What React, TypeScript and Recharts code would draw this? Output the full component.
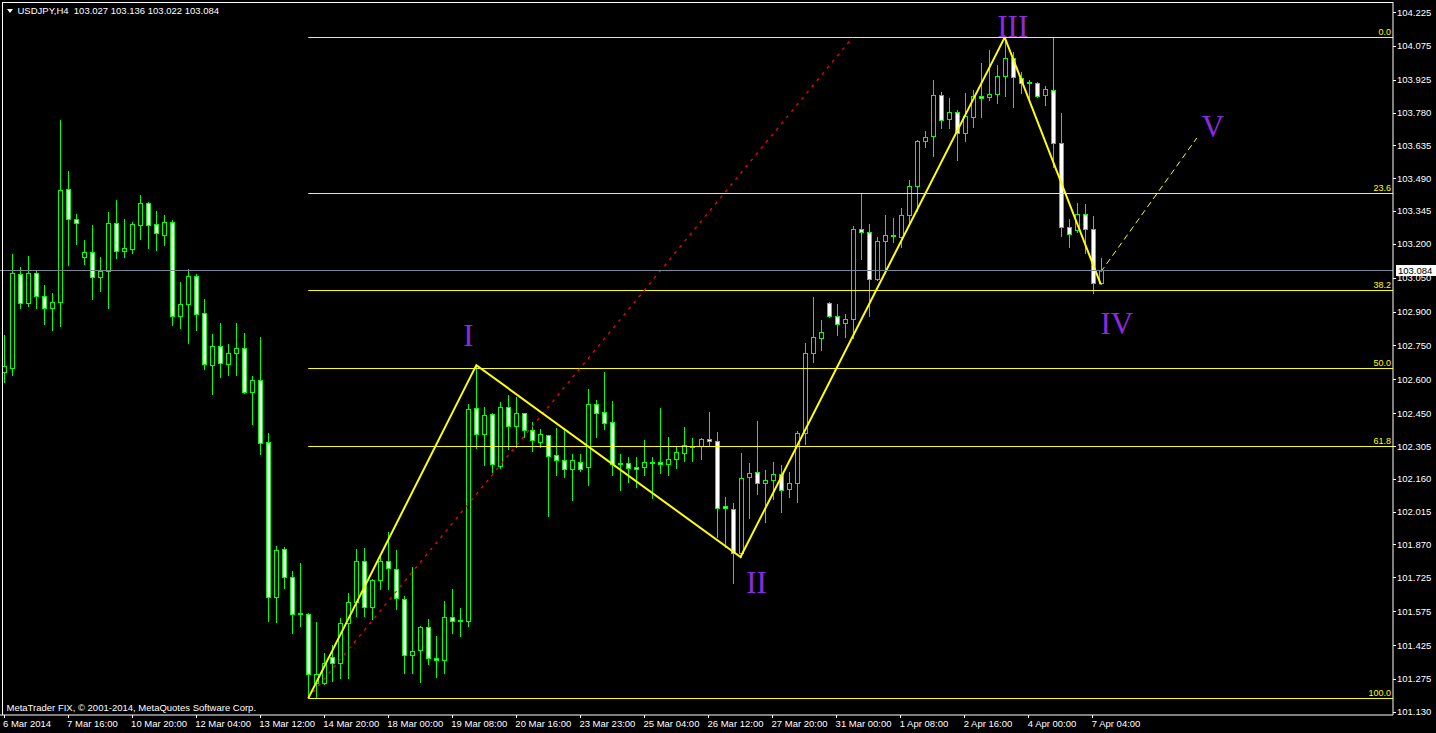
import React from 'react';
import { ComposedChart, Bar, Line, XAxis, YAxis, ReferenceLine, ReferenceDot } from 'recharts';

// USDJPY H4 candles
const opens = [
  102.633, 102.650, 103.066, 102.938, 103.070, 102.969, 102.916, 102.942, 103.442, 103.309,
  103.141, 103.163, 103.053, 103.079, 103.292, 103.168, 103.177, 103.283, 103.380, 103.287,
  103.239, 103.296, 102.880, 102.933, 103.057, 102.894, 102.663, 102.748, 102.668, 102.717,
  102.739, 102.544, 102.597, 102.323, 101.637, 101.850, 101.726, 101.562, 101.562, 101.257,
  101.257, 101.372, 101.345, 101.522, 101.615, 101.796, 101.593, 101.713, 101.796, 101.761,
  101.628, 101.381, 101.403, 101.505, 101.367, 101.359, 101.549, 101.531, 101.531, 102.473,
  102.358, 102.447, 102.217, 102.478, 102.394, 102.451, 102.376, 102.323, 102.354, 102.265,
  102.243, 102.203, 102.234, 102.212, 102.491, 102.456, 102.411, 102.226, 102.230, 102.212,
  102.212, 102.234, 102.234, 102.226, 102.248, 102.274, 102.305, 102.305, 102.336, 102.327,
  102.040, 102.026, 101.832, 102.168, 102.190, 102.142, 102.155, 102.181, 102.115, 102.142,
  102.363, 102.717, 102.783, 102.938, 102.880, 102.849, 102.867, 103.265, 103.252, 103.044,
  103.212, 103.234, 103.230, 103.327, 103.455, 103.654, 103.676, 103.858, 103.752, 103.783,
  103.690, 103.760, 103.853, 103.849, 103.862, 103.942, 104.021, 103.933, 103.915, 103.911,
  103.858, 103.880, 103.646, 103.274, 103.261, 103.331, 103.265, 103.027,
];
const highs = [
  102.796, 103.154, 103.097, 103.146, 103.079, 103.017, 102.982, 103.747, 103.522, 103.331,
  103.216, 103.283, 103.141, 103.340, 103.393, 103.309, 103.296, 103.415, 103.385, 103.345,
  103.327, 103.305, 103.031, 103.088, 103.066, 102.955, 102.801, 102.849, 102.756, 102.849,
  102.805, 102.615, 102.787, 102.363, 101.863, 101.858, 101.752, 101.788, 101.565, 101.527,
  101.390, 101.425, 101.544, 101.655, 101.850, 101.854, 101.717, 101.819, 101.925, 101.845,
  101.642, 101.770, 101.509, 101.540, 101.465, 101.620, 101.673, 101.589, 102.491, 102.663,
  102.478, 102.451, 102.500, 102.531, 102.522, 102.453, 102.411, 102.380, 102.356, 102.385,
  102.385, 102.270, 102.270, 102.557, 102.509, 102.633, 102.504, 102.270, 102.257, 102.257,
  102.332, 102.257, 102.473, 102.345, 102.301, 102.389, 102.341, 102.341, 102.456, 102.367,
  102.080, 102.053, 102.274, 102.230, 102.416, 102.199, 102.234, 102.221, 102.190, 102.370,
  102.761, 102.964, 102.863, 102.942, 102.933, 102.889, 103.278, 103.420, 103.287, 103.230,
  103.327, 103.314, 103.358, 103.482, 103.659, 103.699, 103.924, 103.871, 103.845, 103.791,
  103.867, 103.880, 103.999, 104.057, 103.990, 104.113, 104.048, 103.960, 103.924, 103.915,
  103.898, 104.114, 103.778, 103.309, 103.380, 103.376, 103.323, 103.136,
];
const lows = [
  102.588, 102.619, 102.916, 102.924, 102.916, 102.845, 102.818, 102.836, 103.106, 103.199,
  103.110, 102.955, 102.991, 102.916, 103.137, 103.141, 103.159, 103.221, 103.181, 103.172,
  103.194, 102.840, 102.827, 102.761, 102.818, 102.646, 102.535, 102.610, 102.619, 102.619,
  102.540, 102.403, 102.270, 101.531, 101.527, 101.677, 101.478, 101.509, 101.189, 101.195,
  101.252, 101.266, 101.279, 101.279, 101.553, 101.553, 101.540, 101.673, 101.673, 101.584,
  101.301, 101.301, 101.261, 101.341, 101.283, 101.301, 101.478, 101.465, 101.509, 102.296,
  102.221, 102.190, 102.208, 102.292, 102.301, 102.345, 102.283, 102.301, 101.996, 102.177,
  102.168, 102.066, 102.195, 102.133, 102.345, 102.380, 102.177, 102.111, 102.146, 102.124,
  102.177, 102.075, 102.186, 102.177, 102.208, 102.239, 102.239, 102.248, 102.310, 101.903,
  101.858, 101.699, 101.814, 101.987, 102.093, 101.969, 102.071, 102.013, 102.080, 102.057,
  102.314, 102.677, 102.730, 102.876, 102.796, 102.787, 102.783, 103.132, 102.880, 103.039,
  103.070, 103.208, 103.185, 103.283, 103.345, 103.628, 103.588, 103.712, 103.712, 103.570,
  103.654, 103.716, 103.760, 103.836, 103.822, 103.853, 103.805, 103.867, 103.831, 103.849,
  103.814, 103.539, 103.234, 103.185, 103.252, 103.159, 102.982, 103.022,
];
const closes = [
  102.659, 103.070, 102.938, 103.070, 102.969, 102.916, 102.942, 103.438, 103.309, 103.292,
  103.163, 103.053, 103.079, 103.292, 103.168, 103.181, 103.287, 103.380, 103.283, 103.247,
  103.296, 102.880, 102.933, 103.057, 102.889, 102.668, 102.748, 102.672, 102.717, 102.739,
  102.544, 102.597, 102.318, 101.637, 101.845, 101.726, 101.562, 101.566, 101.297, 101.297,
  101.345, 101.345, 101.522, 101.615, 101.796, 101.593, 101.713, 101.796, 101.766, 101.633,
  101.381, 101.398, 101.505, 101.367, 101.359, 101.549, 101.531, 101.536, 102.469, 102.358,
  102.442, 102.226, 102.478, 102.394, 102.451, 102.376, 102.332, 102.358, 102.261, 102.243,
  102.203, 102.243, 102.203, 102.491, 102.451, 102.407, 102.226, 102.230, 102.208, 102.203,
  102.234, 102.232, 102.226, 102.248, 102.279, 102.310, 102.303, 102.336, 102.327, 102.031,
  102.031, 101.832, 102.164, 102.186, 102.142, 102.155, 102.181, 102.111, 102.142, 102.363,
  102.717, 102.787, 102.809, 102.880, 102.845, 102.867, 103.265, 103.252, 103.044, 103.212,
  103.239, 103.239, 103.327, 103.455, 103.654, 103.672, 103.858, 103.747, 103.783, 103.690,
  103.765, 103.853, 103.845, 103.862, 103.942, 104.021, 103.937, 103.911, 103.913, 103.853,
  103.884, 103.646, 103.274, 103.243, 103.331, 103.265, 103.026, 103.084,
];

// bars shown on the time axis, incl. empty space on the right
const TOTAL_BARS = 174;

const dateTicks = [0, 8, 16, 24, 32, 40, 48, 56, 64, 72, 80, 88, 96, 104, 112, 120, 128, 136];
const dateLabels = [
  '6 Mar 2014', '7 Mar 16:00', '10 Mar 20:00', '12 Mar 04:00', '13 Mar 12:00', '14 Mar 20:00',
  '18 Mar 00:00', '19 Mar 08:00', '20 Mar 16:00', '23 Mar 23:00', '25 Mar 04:00', '26 Mar 12:00',
  '27 Mar 20:00', '31 Mar 00:00', '1 Apr 08:00', '2 Apr 16:00', '4 Apr 00:00', '7 Apr 04:00',
];

const priceTicks = [
  104.225, 104.075, 103.925, 103.78, 103.635, 103.49, 103.345, 103.2, 103.05, 102.9, 102.75,
  102.6, 102.45, 102.305, 102.16, 102.015, 101.87, 101.725, 101.575, 101.425, 101.275, 101.13,
];
const PRICE_MIN = 101.1154;
const PRICE_MAX = 104.2694;

// elliott zigzag
const waveIdx = [38, 59, 92, 125, 137];
const wavePrice = [101.189, 102.663, 101.814, 104.113, 103.02];
const targetIdx = [137, 149];
const targetPrice = [103.075, 103.668];
const trendIdx = [38, 106];
const trendPrice = [101.189, 104.113];

const waveNames = ['I', 'II', 'III', 'IV', 'V'];
const waveLabelIdx = [58, 94, 126, 139, 151];
const waveLabelPrice = [102.749, 101.655, 104.116, 102.799, 103.671];

// fibo retracement
const fibHigh = 104.113;
const fibLow = 101.189;
const fibStart = 38;
const fibLevels = [0, 23.6, 38.2, 50, 61.8, 100];

const lastPrice = 103.084;

const FONT = '"Liberation Sans", Arial, sans-serif';
const GREEN = '#00ff00';
const YELLOW = '#ffff00';
const PURPLE = '#8a2be2';

const data = Array.from({ length: TOTAL_BARS }, (_, i) => {
  const row: any = { i };
  if (i < opens.length) {
    row.open = opens[i];
    row.high = highs[i];
    row.low = lows[i];
    row.close = closes[i];
  }
  const w = waveIdx.indexOf(i);
  if (w >= 0) row.wave = wavePrice[w];
  const t = targetIdx.indexOf(i);
  if (t >= 0) row.target = targetPrice[t];
  const r = trendIdx.indexOf(i);
  if (r >= 0) row.trend = trendPrice[r];
  return row;
});

const Candle = (props: any) => {
  const { x, y, width, height, payload } = props;
  if (!payload || payload.high == null || x == null) return <g />;
  const { open, high, low, close } = payload;
  const span = high - low;
  const k = span > 0 ? height / span : 0;
  const yOf = (v: number) => y + (high - v) * k;
  const c = Math.floor(x + width / 2);
  const top = Math.round(yOf(Math.max(open, close))) + 0.5;
  const bot = Math.round(yOf(Math.min(open, close))) + 0.5;
  const bull = close > open;
  return (
    <g>
      <line x1={c + 0.5} x2={c + 0.5} y1={Math.round(yOf(high))} y2={Math.round(yOf(low)) + 1} stroke={GREEN} strokeWidth={1} />
      {bot - top >= 1 ? (
        <rect x={c - 1.5} y={top} width={4} height={bot - top} fill={bull ? '#000' : '#fff'} stroke={GREEN} strokeWidth={1} />
      ) : (
        <line x1={c - 2} x2={c + 3} y1={top} y2={top} stroke={GREEN} strokeWidth={1} />
      )}
    </g>
  );
};

const PriceTick = (props: any) => {
  const { x, y, payload } = props;
  return (
    <g>
      <line x1={x} x2={x + 3} y1={Math.round(y) + 0.5} y2={Math.round(y) + 0.5} stroke="#fff" />
      <text x={x + 4} y={y + 3.5} fill="#fff" fontSize={9.5} fontFamily={FONT}>
        {Number(payload.value).toFixed(3)}
      </text>
    </g>
  );
};

const DateTick = (props: any) => {
  const { x, y, payload } = props;
  const n = dateTicks.indexOf(payload.value);
  if (n < 0) return <g />;
  const px = Math.floor(x) + 0.5;
  return (
    <g>
      <line x1={px} x2={px} y1={y} y2={y + 3} stroke="#fff" />
      <text x={x - 1} y={y + 12} fill="#fff" fontSize={9.5} fontFamily={FONT}>
        {dateLabels[n]}
      </text>
    </g>
  );
};

const FibLine = (label: string) => (p: any) => {
  const yy = Math.round(p.y1) + 0.5;
  const left = Math.min(p.x1, p.x2);
  const right = Math.max(p.x1, p.x2);
  return (
    <g>
      <line x1={left} x2={right + 4} y1={yy} y2={yy} stroke={YELLOW} strokeWidth={1} />
      <text x={right + 2} y={yy - 3} textAnchor="end" fill={YELLOW} fontSize={9} fontFamily={FONT}>
        {label}
      </text>
    </g>
  );
};

const LastPriceLine = (p: any) => {
  const yy = Math.round(p.y1) + 0.5;
  const left = Math.min(p.x1, p.x2);
  const right = Math.max(p.x1, p.x2);
  return (
    <g>
      <line x1={left} x2={right} y1={yy} y2={yy} stroke="#778899" strokeWidth={1} />
      <rect x={right + 3} y={yy - 5.5} width={40} height={11} fill="#fff" />
      <text x={right + 5} y={yy + 3.5} fill="#000" fontSize={9.5} fontFamily={FONT}>
        {lastPrice.toFixed(3)}
      </text>
    </g>
  );
};

const WaveLabel = (name: string) => (p: any) => (
  <text x={p.cx} y={p.cy} textAnchor="middle" fill={PURPLE} fontSize={31} fontFamily='"Liberation Serif", "Times New Roman", serif'>
    {name}
  </text>
);

export default function App() {
  return (
    <div style={{ position: 'absolute', left: 0, top: 0, width: 1436, height: 733, background: '#000', overflow: 'hidden' }}>
      <ComposedChart width={1436} height={733} data={data} margin={{ top: 2, right: 0, bottom: 0, left: 0 }}>
        <XAxis
          dataKey="i"
          height={18}
          ticks={dateTicks}
          interval={0}
          tickLine={false}
          tickSize={0}
          tickMargin={0}
          axisLine={{ stroke: '#fff' }}
          tick={<DateTick />}
        />
        <YAxis
          orientation="right"
          type="number"
          width={43}
          domain={[PRICE_MIN, PRICE_MAX]}
          allowDataOverflow
          ticks={priceTicks}
          interval={0}
          tickLine={false}
          tickSize={0}
          tickMargin={0}
          axisLine={{ stroke: '#fff' }}
          tick={<PriceTick />}
        />
        {fibLevels.map((lv) => {
          const price = fibHigh - ((fibHigh - fibLow) * lv) / 100;
          return (
            <ReferenceLine
              key={lv}
              segment={[{ x: fibStart, y: price }, { x: TOTAL_BARS - 1, y: price }]}
              shape={FibLine(lv.toFixed(1))}
            />
          );
        })}
        <Bar
          dataKey={(d: any) => (d.high == null ? null : [d.low, d.high])}
          barSize={5}
          shape={<Candle />}
          isAnimationActive={false}
        />
        <Line dataKey="trend" stroke="#ff0000" strokeWidth={1.3} strokeDasharray="3 5" dot={false} activeDot={false} connectNulls isAnimationActive={false} />
        <Line dataKey="wave" stroke={YELLOW} strokeWidth={2} dot={false} activeDot={false} connectNulls isAnimationActive={false} />
        <Line dataKey="target" stroke={YELLOW} strokeWidth={1} strokeDasharray="6 4" dot={false} activeDot={false} connectNulls isAnimationActive={false} />
        <ReferenceLine y={lastPrice} shape={LastPriceLine} />
        {waveNames.map((name, n) => (
          <ReferenceDot key={name} x={waveLabelIdx[n]} y={waveLabelPrice[n]} r={0} shape={WaveLabel(name)} />
        ))}
      </ComposedChart>
      <svg width={1436} height={733} style={{ position: 'absolute', left: 0, top: 0, pointerEvents: 'none' }}>
        <line x1={2} x2={1393} y1={2.5} y2={2.5} stroke="#fff" />
        <line x1={2.5} x2={2.5} y1={2} y2={715} stroke="#fff" />
        <polygon points="7,9 13,9 10,13" fill="#fff" />
        <text x={17.5} y={14} fill="#fff" fontSize={9.5} fontFamily={FONT} style={{ whiteSpace: 'pre' }}>
          {'USDJPY,H4  103.027 103.136 103.022 103.084'}
        </text>
        <text x={6.5} y={711} fill="#fff" fontSize={9.5} fontFamily={FONT}>
          MetaTrader FIX, © 2001-2014, MetaQuotes Software Corp.
        </text>
      </svg>
    </div>
  );
}
